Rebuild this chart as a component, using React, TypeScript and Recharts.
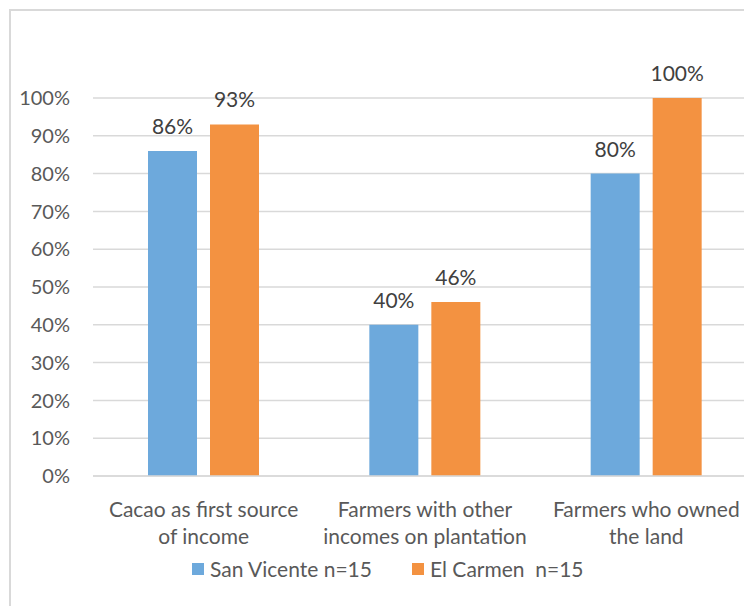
import React from "react";
import { BarChart, Bar, XAxis, YAxis, CartesianGrid, Legend, LabelList } from "recharts";

const categories = ["Cacao as first source of income", "Farmers with other incomes on plantation", "Farmers who owned the land"];
const tickLines = [
  ["Cacao as first source", "of income"],
  ["Farmers with other", "incomes on plantation"],
  ["Farmers who owned", "the land"],
];
const sanVicente = [0.86, 0.4, 0.8];
const elCarmen = [0.93, 0.46, 1.0];
const seriesNames = ["San Vicente n=15", "El Carmen  n=15"];
const yTicks = [0, 0.1, 0.2, 0.3, 0.4, 0.5, 0.6, 0.7, 0.8, 0.9, 1.0];

const data = categories.map((c, i) => ({ name: c, sv: sanVicente[i], ec: elCarmen[i], idx: i }));

const FONT = "Lato, 'Liberation Sans', sans-serif";
const TEXT = "#595959";
const BLUE = "#6DA9DC";
const ORANGE = "#F39241";
const FS = 21;

const pct = (v: number) => `${Math.round(v * 100)}%`;

const CatTick = (props: any) => {
  const { x, y, payload } = props;
  const lines = tickLines[payload.index] || [payload.value];
  return (
    <g>
      {lines.map((l: string, i: number) => (
        <text key={i} x={x} y={y + 27 * i} textAnchor="middle" fill={TEXT} fontSize={FS} fontFamily={FONT} dominantBaseline="central">
          {l}
        </text>
      ))}
    </g>
  );
};

const LegendContent = () => (
  <div style={{ position: "relative", top: -10, display: "flex", justifyContent: "flex-start", paddingLeft: 182, fontFamily: FONT, fontSize: FS, color: TEXT, alignItems: "center" }}>
    {seriesNames.map((n, i) => (
      <div key={n} style={{ display: "flex", alignItems: "center", marginRight: 40 }}>
        <div style={{ width: 12, height: 12, background: i === 0 ? BLUE : ORANGE, marginRight: 6 }} />
        <span style={{ whiteSpace: "pre" }}>{n}</span>
      </div>
    ))}
  </div>
);

export default function App() {
  return (
    <div style={{ position: "absolute", left: 0, top: 0, width: 744, height: 606, overflow: "hidden", background: "#fff" }}>
      <div style={{ position: "absolute", left: 9, top: 9, width: 800, height: 700, border: "2px solid #d9d9d9", boxSizing: "border-box" }} />
      <div style={{ position: "absolute", left: 0, top: 0 }}>
        <BarChart
          width={770}
          height={606}
          data={data}
          margin={{ top: 98, right: 13, left: 10, bottom: 0 }}
          barGap={13}
          barSize={49}
        >
          <CartesianGrid vertical={false} stroke="#d9d9d9" strokeWidth={1.5} />
          <XAxis
            dataKey="name"
            axisLine={{ stroke: "#d9d9d9", strokeWidth: 1.5 }}
            tickLine={false}
            tick={<CatTick />}
            height={90}
            interval={0}
            tickMargin={26}
          />
          <YAxis
            domain={[0, 1]}
            ticks={yTicks}
            tickFormatter={pct}
            axisLine={false}
            tickLine={false}
            tickSize={0}
            tickMargin={23}
            width={83}
            tick={{ fill: TEXT, fontSize: 20, fontFamily: FONT }}
            interval={0}
          />
          <Legend verticalAlign="bottom" height={40} content={<LegendContent />} />
          <Bar dataKey="sv" name={seriesNames[0]} fill={BLUE} isAnimationActive={false}>
            <LabelList dataKey="sv" position="top" offset={17} formatter={pct} fill="#404040" fontSize={FS} fontFamily={FONT} />
          </Bar>
          <Bar dataKey="ec" name={seriesNames[1]} fill={ORANGE} isAnimationActive={false}>
            <LabelList dataKey="ec" position="top" offset={17} formatter={pct} fill="#404040" fontSize={FS} fontFamily={FONT} />
          </Bar>
        </BarChart>
      </div>
    </div>
  );
}
